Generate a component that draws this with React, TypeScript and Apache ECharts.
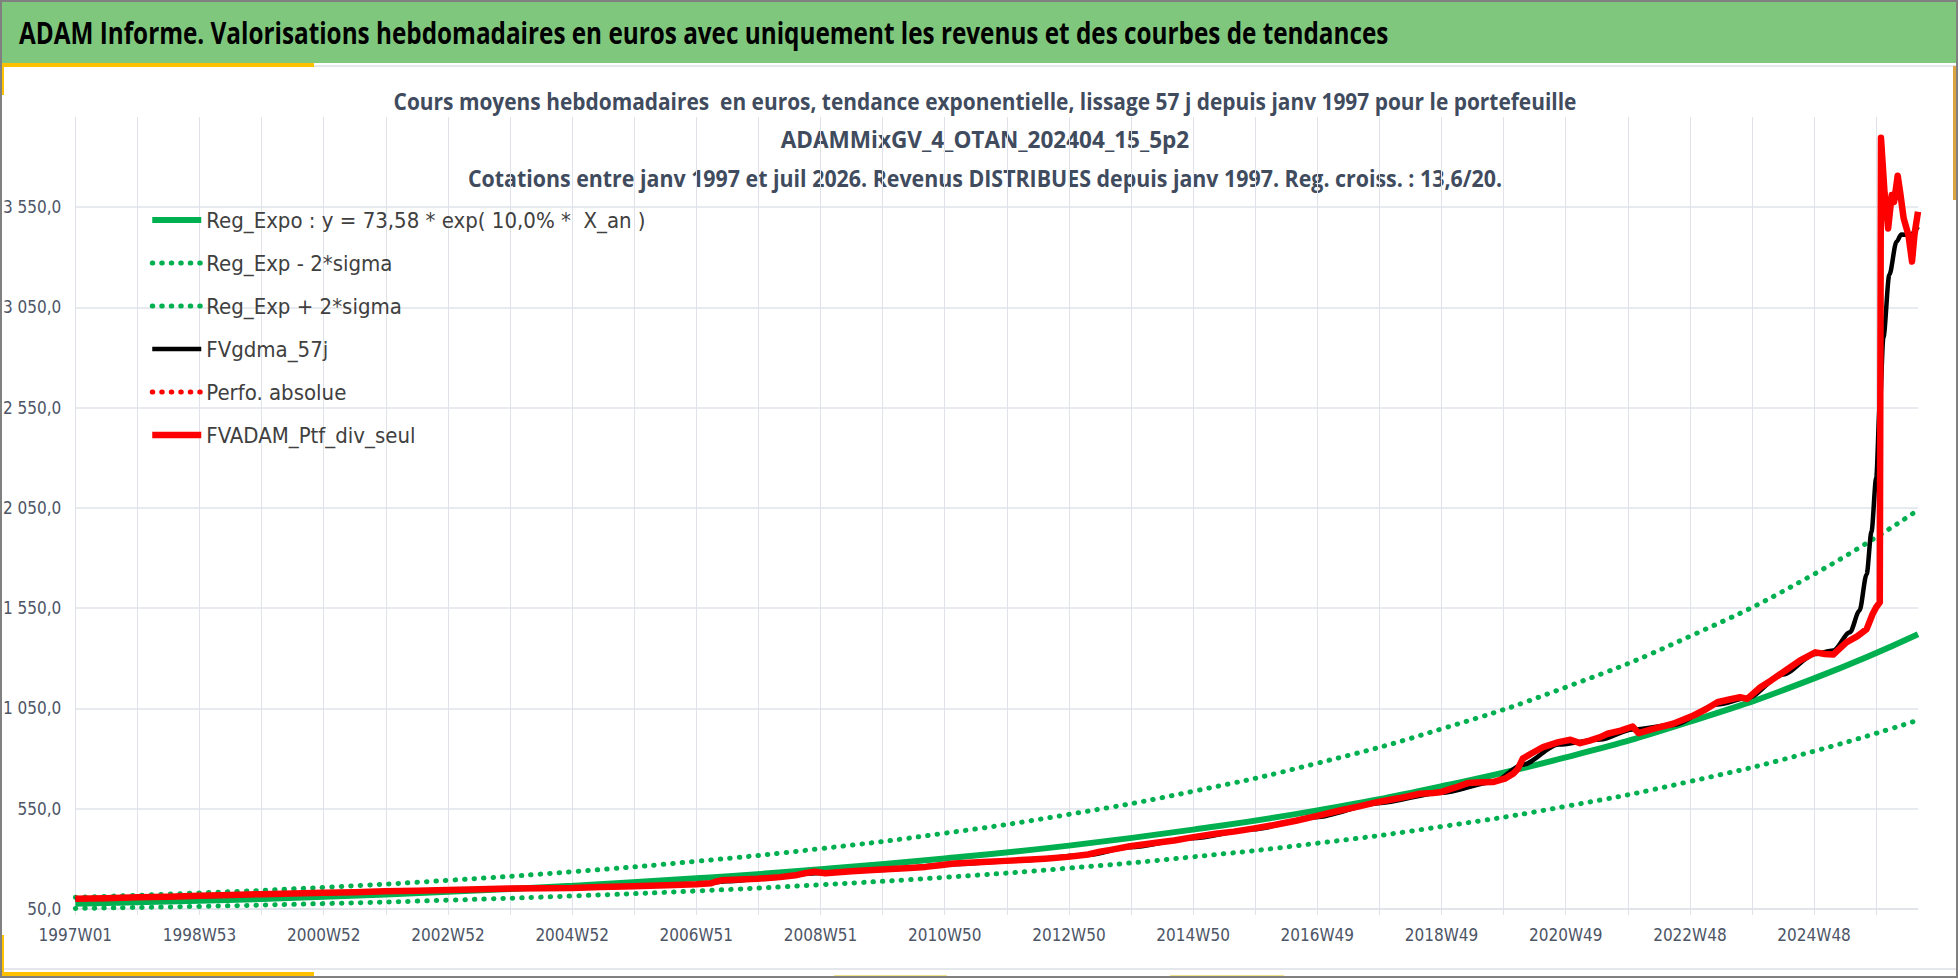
import { useEffect, useRef } from 'react';
import * as echarts from 'echarts';

const FONT = "'DejaVu Sans Condensed', 'Noto Sans', sans-serif";
const TITLE_FONT = "'Open Sans', 'Noto Sans', sans-serif";

const HEADER_TEXT =
  'ADAM Informe. Valorisations hebdomadaires en euros avec uniquement les revenus et des courbes de tendances';
const TITLE_LINES = [
  'Cours moyens hebdomadaires  en euros, tendance exponentielle, lissage 57 j depuis janv 1997 pour le portefeuille',
  'ADAMMixGV_4_OTAN_202404_15_5p2',
  'Cotations entre janv 1997 et juil 2026. Revenus DISTRIBUES depuis janv 1997. Reg. croiss. : 13,6/20.',
];
// largeurs mesurées sur l'image (police étroite type Calibri)
const TITLE_WIDTHS = [1183, 409, 1035];

const SERIES_NAMES = [
  'Reg_Expo : y = 73,58 * exp( 10,0% *  X_an )',
  'Reg_Exp - 2*sigma',
  'Reg_Exp + 2*sigma',
  'FVgdma_57j',
  'Perfo. absolue',
  'FVADAM_Ptf_div_seul',
];

// nombre de semaines affichées (1997W01 -> juil 2026)
const WEEK_COUNT = 1544;

// libellé ISO année/semaine
const isoWeekLabel = (i: number) => {
  const monday = Date.UTC(1996, 11, 30) + i * 7 * 86400000;
  const thursday = new Date(monday + 3 * 86400000);
  const year = thursday.getUTCFullYear();
  const week = Math.floor((thursday.getTime() - Date.UTC(year, 0, 1)) / 86400000 / 7) + 1;
  return `${year}W${String(week).padStart(2, '0')}`;
};
const categories = Array.from({ length: WEEK_COUNT }, (_, i) => isoWeekLabel(i));

// courbes de tendance, lues tous les 104 semaines
const trendWeeks = [0, 104, 208, 312, 416, 520, 624, 728, 832, 936, 1040, 1144, 1248, 1352, 1456, 1543];
const regExpo = [76, 91, 111, 136, 166, 203, 248, 302, 366, 446, 542, 662, 806, 984, 1200, 1420];
const regExpLow = [53, 63, 77, 94, 115, 140, 171, 208, 254, 310, 378, 461, 562, 686, 837, 992];
const regExpHigh = [108, 130, 158, 193, 236, 288, 351, 428, 522, 637, 777, 948, 1156, 1410, 1720, 2040];

// FVADAM_Ptf_div_seul : [semaine, valeur]
const ptfPoints: [number, number][] = [
  [0, 101], [26, 104], [52, 108], [78, 111], [104, 116], [130, 120], [156, 124], [182, 127],
  [208, 131], [234, 134], [259, 138], [286, 141], [312, 145], [338, 148], [363, 152], [390, 154],
  [416, 155], [440, 160], [467, 164], [495, 169], [520, 174], [532, 178], [536, 186], [541, 193],
  [571, 201], [590, 209], [603, 218], [612, 230], [619, 236], [628, 228], [650, 238], [675, 247],
  [695, 253], [712, 260], [724, 268], [736, 277], [760, 284], [779, 290], [792, 294], [812, 301],
  [831, 310], [848, 322], [858, 336], [867, 345], [883, 363], [905, 380], [920, 392], [935, 407],
  [955, 425], [970, 436], [986, 451], [1005, 470], [1022, 490], [1039, 513], [1058, 540], [1075, 562],
  [1091, 584], [1108, 602], [1126, 625], [1137, 629], [1144, 634], [1155, 655], [1166, 678],
  [1178, 682], [1187, 683], [1197, 700], [1204, 725], [1208, 750], [1212, 800], [1220, 828],
  [1229, 857], [1242, 882], [1252, 894], [1260, 877], [1268, 890], [1277, 907], [1283, 924],
  [1294, 940], [1304, 960], [1309, 927], [1322, 950], [1338, 974], [1355, 1015], [1365, 1045],
  [1375, 1081], [1385, 1095], [1394, 1106], [1400, 1098], [1411, 1156], [1420, 1190], [1430, 1231],
  [1444, 1289], [1457, 1330], [1465, 1322], [1472, 1319], [1483, 1380], [1492, 1410], [1500, 1446],
  [1505, 1521], [1508, 1555], [1511, 1579], [1512, 3896], [1515, 3620], [1518, 3444], [1521, 3611],
  [1523, 3577], [1526, 3707], [1528, 3627], [1531, 3494], [1535, 3411], [1538, 3279], [1540, 3411],
  [1543, 3527],
];

// FVgdma_57j (moyenne lissée) : [semaine, valeur]
const gdmaPoints: [number, number][] = [
  [0, 100], [104, 115], [208, 130], [312, 144], [416, 155], [520, 172], [545, 188], [580, 203],
  [620, 228], [675, 245], [736, 273], [792, 292], [848, 320], [883, 358], [935, 403], [986, 448],
  [1039, 508], [1091, 578], [1144, 630], [1187, 682], [1212, 770], [1242, 870], [1277, 895],
  [1304, 945], [1338, 968], [1375, 1070], [1400, 1102], [1430, 1220], [1457, 1322], [1472, 1339],
  [1486, 1430], [1494, 1538], [1500, 1720], [1504, 1930], [1508, 2200], [1511, 2560], [1514, 2900],
  [1519, 3213], [1525, 3378], [1529, 3414], [1536, 3411], [1543, 3453],
];

// Perfo. absolue : masquée par les autres courbes
const perfoPoints: [number, number][] = [];

const Y_MIN = 50;
const Y_MAX = 4000;
const Y_STEP = 500;

const frenchNumber = (v: number) => {
  const [int, dec] = v.toFixed(1).split('.');
  return `${int.replace(/\B(?=(\d{3})+(?!\d))/g, ' ')},${dec}`;
};

// largeur d'un texte pour le resserrer à la taille voulue
const textWidth = (text: string, font: string) => {
  const ctx = document.createElement('canvas').getContext('2d');
  if (!ctx) return 0;
  ctx.font = font;
  return ctx.measureText(text).width;
};

const GREEN = '#00B050';
const GRID = '#DFE3E9';

const App = () => {
  const chartRef = useRef<HTMLDivElement>(null);

  useEffect(() => {
    document.body.style.margin = '0';
    if (!chartRef.current) return;
    const chart = echarts.init(chartRef.current, undefined, { renderer: 'svg' });

    const trend = (vals: number[]) => trendWeeks.map((w, i) => [w, vals[i]]);
    const dots = [0.5, 9];

    const headerFont = `bold 30px ${TITLE_FONT}`;
    const headerW = textWidth(HEADER_TEXT, headerFont);
    const titleFont = `bold 23px ${TITLE_FONT}`;

    const option: echarts.EChartsOption = {
      animation: false,
      backgroundColor: '#fff',
      textStyle: { fontFamily: FONT },
      grid: { left: 73, right: 40, top: 117, bottom: 69, containLabel: false },
      legend: {
        orient: 'vertical',
        left: 144,
        top: 203,
        itemWidth: 49,
        itemHeight: 14,
        itemGap: 19,
        data: SERIES_NAMES,
        itemStyle: { opacity: 0 },
        lineStyle: { width: 'inherit' as any },
        textStyle: { fontFamily: FONT, fontSize: 22, lineHeight: 24, color: '#404040' },
      },
      xAxis: {
        type: 'category',
        data: categories,
        boundaryGap: false,
        axisLine: { lineStyle: { color: GRID, width: 1.5 } },
        axisTick: { show: true, interval: 51, length: 6, lineStyle: { color: GRID } },
        axisLabel: {
          interval: 103,
          margin: 17,
          fontSize: 17,
          color: '#4D5566',
          fontFamily: FONT,
        },
        splitLine: { show: true, interval: 51, lineStyle: { color: GRID, width: 1 } },
      },
      yAxis: {
        type: 'value',
        min: Y_MIN,
        max: Y_MAX,
        interval: Y_STEP,
        axisLine: { show: false },
        axisTick: { show: false },
        axisLabel: {
          showMaxLabel: false,
          margin: 14,
          fontSize: 17,
          color: '#4D5566',
          fontFamily: FONT,
          formatter: (v: number) => frenchNumber(v),
        },
        splitLine: {
          show: true,
          showMaxLine: false,
          lineStyle: {
            color: [GRID, GRID, GRID, GRID, GRID, GRID, GRID, GRID, 'rgba(0,0,0,0)'],
            width: 1.5,
          },
        },
      },
      series: [
        {
          name: SERIES_NAMES[0],
          type: 'line',
          data: trend(regExpo),
          smooth: true,
          symbol: 'none',
          lineStyle: { color: GREEN, width: 6 },
          itemStyle: { color: GREEN },
        },
        {
          name: SERIES_NAMES[1],
          type: 'line',
          data: trend(regExpLow),
          smooth: true,
          symbol: 'none',
          lineStyle: { color: GREEN, width: 5, type: dots, cap: 'round' },
          itemStyle: { color: GREEN },
        },
        {
          name: SERIES_NAMES[2],
          type: 'line',
          data: trend(regExpHigh),
          smooth: true,
          symbol: 'none',
          lineStyle: { color: GREEN, width: 5, type: dots, cap: 'round' },
          itemStyle: { color: GREEN },
        },
        {
          name: SERIES_NAMES[3],
          type: 'line',
          data: gdmaPoints,
          smooth: 0.3,
          smoothMonotone: 'x',
          symbol: 'none',
          lineStyle: { color: '#000', width: 4.5 },
          itemStyle: { color: '#000' },
        },
        {
          name: SERIES_NAMES[4],
          type: 'line',
          data: perfoPoints,
          symbol: 'none',
          lineStyle: { color: '#FF0000', width: 5, type: dots, cap: 'round' },
          itemStyle: { color: '#FF0000' },
        },
        {
          name: SERIES_NAMES[5],
          type: 'line',
          data: ptfPoints,
          symbol: 'none',
          lineStyle: { color: '#FF0000', width: 6.5, join: 'round' },
          itemStyle: { color: '#FF0000' },
        },
      ],
      graphic: [
        { type: 'rect', shape: { x: 0, y: 0, width: 1958, height: 63 }, style: { fill: '#80C77E' } },
        {
          type: 'text',
          x: 19,
          y: 32,
          scaleX: headerW > 0 ? 1370 / headerW : 1,
          style: {
            text: HEADER_TEXT,
            font: headerFont,
            fill: '#000',
            textAlign: 'left',
            textVerticalAlign: 'middle',
          },
        },
        { type: 'rect', shape: { x: 0, y: 65, width: 1958, height: 2 }, style: { fill: '#E4E7EC' } },
        { type: 'rect', shape: { x: 0, y: 63, width: 314, height: 4 }, style: { fill: '#FFC000' } },
        { type: 'rect', shape: { x: 0, y: 63, width: 4, height: 32 }, style: { fill: '#FFC000' } },
        { type: 'rect', shape: { x: 1953, y: 66, width: 4, height: 134 }, style: { fill: '#D9A441' } },
        { type: 'rect', shape: { x: 0, y: 968, width: 1958, height: 2 }, style: { fill: '#E4E7EC' } },
        { type: 'rect', shape: { x: 0, y: 972, width: 314, height: 6 }, style: { fill: '#FFC000' } },
        { type: 'rect', shape: { x: 0, y: 935, width: 4, height: 43 }, style: { fill: '#FFC000' } },
        { type: 'rect', shape: { x: 834, y: 975, width: 113, height: 3 }, style: { fill: '#F2E38A' } },
        { type: 'rect', shape: { x: 1170, y: 975, width: 114, height: 3 }, style: { fill: '#F2E38A' } },
        {
          type: 'rect',
          shape: { x: 1, y: 1, width: 1956, height: 976 },
          style: { fill: 'none', stroke: '#808080', lineWidth: 2 },
        },
        ...TITLE_LINES.map((t, i) => {
          const w = textWidth(t, titleFont);
          return {
            type: 'text' as const,
            x: 985,
            y: 101 + i * 38.5,
            scaleX: w > 0 ? TITLE_WIDTHS[i] / w : 1,
            style: {
              text: t,
              font: titleFont,
              fill: '#404B5E',
              textAlign: 'center',
              textVerticalAlign: 'middle',
            },
          };
        }),
      ],
    };

    chart.setOption(option);

    return () => {
      chart.dispose();
    };
  }, []);

  return <div ref={chartRef} style={{ position: 'fixed', left: 0, top: 0, width: 1958, height: 978 }} />;
};

export default App;
